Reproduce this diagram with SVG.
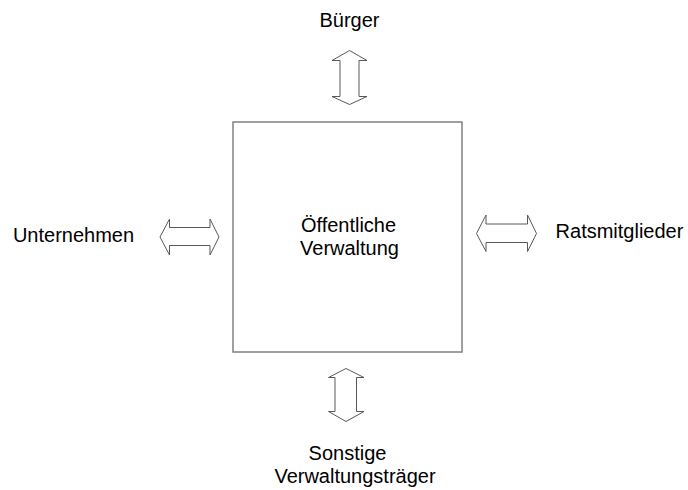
<svg xmlns="http://www.w3.org/2000/svg" width="688" height="490" viewBox="0 0 688 490">
<style>
text{font-family:"Liberation Sans",Arial,sans-serif;font-size:20px;fill:#000;text-anchor:middle}
.box{fill:#fff;stroke:#808080;stroke-width:1.5}
.arr{fill:#fff;stroke:#595959;stroke-width:1}
</style>
<rect width="688" height="490" fill="#fff"/>
<g id="verwaltung">
<rect class="box" x="233" y="122" width="229" height="230"/>
<text x="348.5" y="232">Öffentliche</text>
<text x="349.5" y="255">Verwaltung</text>
</g>
<g id="buerger"><text x="349.5" y="27">Bürger</text></g>
<g id="unternehmen"><text x="73.5" y="242">Unternehmen</text></g>
<g id="ratsmitglieder"><text x="619.5" y="238">Ratsmitglieder</text></g>
<g id="sonstige">
<text x="347.5" y="460">Sonstige</text>
<text x="355" y="483">Verwaltungsträger</text>
</g>
<g id="connectors">
<polygon class="arr" points="349.5,50.5 367,60.5 359,60.5 359,96.5 367,96.5 349.5,104.5 332,96.5 340,96.5 340,60.5 332,60.5"/>
<polygon class="arr" points="160,237 169.5,219 169.5,227.5 210,227.5 210,219 219,237 210,255 210,245.5 169.5,245.5 169.5,255"/>
<polygon class="arr" points="476.5,233.5 486,215 486,224 527.5,224 527.5,215 536.5,233.5 527.5,251.5 527.5,242.5 486,242.5 486,251.5"/>
<polygon class="arr" points="346,368.5 364,377.5 356.5,377.5 356.5,411.5 364,411.5 346,421.5 328.5,411.5 335,411.5 335,377.5 328.5,377.5"/>
</g>
</svg>
